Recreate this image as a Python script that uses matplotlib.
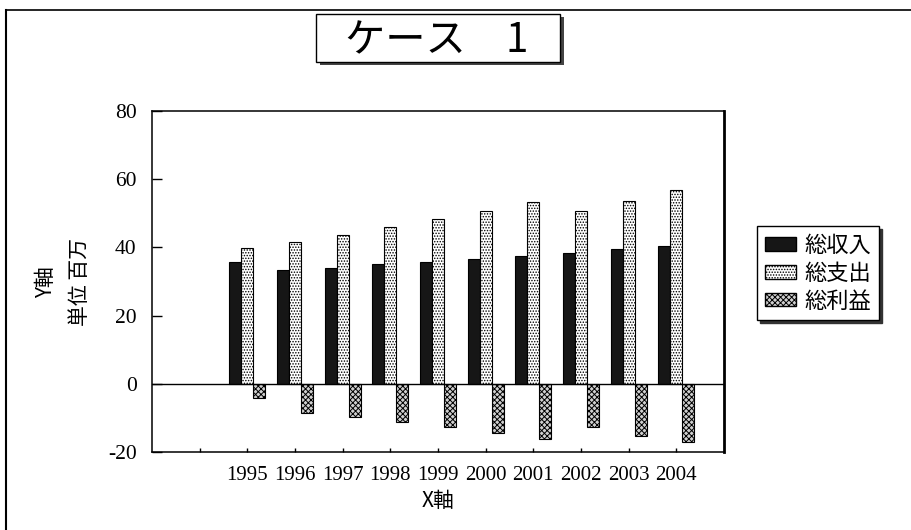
import matplotlib
matplotlib.use("Agg")
import matplotlib.pyplot as plt
from matplotlib.patches import Rectangle, Patch
from matplotlib.lines import Line2D
import numpy as np

W, H = 911, 530
JP = ["Noto Sans CJK JP", "DejaVu Sans"]
NUM = ["Liberation Serif", "DejaVu Serif"]

years = ["1995", "1996", "1997", "1998", "1999", "2000", "2001", "2002", "2003", "2004"]
income = [35.6, 33.4, 33.9, 35.1, 35.7, 36.6, 37.5, 38.5, 39.5, 40.3]
expense = [39.8, 41.7, 43.7, 46.0, 48.3, 50.6, 53.3, 50.7, 53.7, 56.7]
profit = [-4.2, -8.6, -9.6, -11.3, -12.7, -14.5, -16.2, -12.8, -15.2, -17.1]
series_names = ["総収入", "総支出", "総利益"]
yticks = [-20, 0, 20, 40, 60, 80]
n_blank = 2  # two empty category slots before 1995


def fx(px):
    return px / W


def fy(py):
    return 1 - py / H


plt.rcParams["hatch.linewidth"] = 0.7
fig = plt.figure(figsize=(W / 100, H / 100), dpi=100)
fig.patch.set_facecolor("white")

# outer frame (only top and left are inside the scan)
fig.add_artist(Line2D([fx(6), fx(6)], [fy(10), 0], color="black", lw=1.5))
fig.add_artist(Line2D([fx(6), 1], [fy(10), fy(10)], color="black", lw=1.2))

ax = fig.add_axes([fx(152), fy(452), fx(724) - fx(152), fy(111) - fy(452)])
x = np.arange(len(years)) + n_blank
bw = 0.25
ax.bar(x - bw, income, bw, facecolor="#161616", edgecolor="black", lw=0.8)
ax.bar(x, expense, bw, facecolor="white", edgecolor="black", hatch="......", lw=0.8)
ax.bar(x + bw, profit, bw, facecolor="#d0d0d0", edgecolor="black", hatch="xxxxxx", lw=0.8)
ax.axhline(0, color="black", lw=1.0)

ncat = len(years) + n_blank
ax.set_xlim(0, ncat)
ax.set_ylim(-20, 80)
ax.set_yticks(yticks)
ax.set_yticklabels([str(v) for v in yticks], family=NUM, fontsize=15.5)
ax.set_xticks(np.arange(1, ncat))
ax.set_xticklabels([""] * (n_blank - 1) + years, family=NUM, fontsize=15)
ax.tick_params(axis="y", direction="in", length=7, width=1, pad=11)
ax.tick_params(axis="x", direction="in", length=3, width=1, pad=10)
for side in ["left", "bottom", "top"]:
    ax.spines[side].set_linewidth(1.1)
ax.spines["right"].set_linewidth(2.0)

fig.text(fx(438), fy(501), "X軸", family=JP, fontsize=15, ha="center", va="center")
fig.text(fx(46), fy(282), "Y軸", family=JP, fontsize=15, ha="center", va="center", rotation=90)
fig.text(fx(80), fy(282), "単位 百万", family=JP, fontsize=15, ha="center", va="center", rotation=90)

# title box with shadow
fig.add_artist(Rectangle((fx(320), fy(65)), fx(244), fy(17) - fy(65), facecolor="#444444",
                         edgecolor="none", transform=fig.transFigure))
fig.add_artist(Rectangle((fx(316), fy(62)), fx(244), fy(14) - fy(62), facecolor="white",
                         edgecolor="black", lw=1.0, transform=fig.transFigure))
fig.text(fx(437), fy(41), "ケース　1", family=JP, fontsize=29, ha="center", va="center")

handles = [Patch(facecolor="#161616", edgecolor="black"),
           Patch(facecolor="white", edgecolor="black", hatch="......"),
           Patch(facecolor="#d0d0d0", edgecolor="black", hatch="xxxxxx")]
leg = fig.legend(handles, series_names, loc="upper left",
                 bbox_to_anchor=(fx(757), fy(226)), borderaxespad=0,
                 prop={"family": JP, "size": 16}, frameon=True, fancybox=False,
                 edgecolor="black", handlelength=1.4, handleheight=0.55,
                 handletextpad=0.4, labelspacing=0.22, borderpad=0.35,
                 shadow={"color": "#333333", "alpha": 1.0})
leg.get_frame().set_linewidth(1.0)

fig.savefig("out.png", dpi=100)
